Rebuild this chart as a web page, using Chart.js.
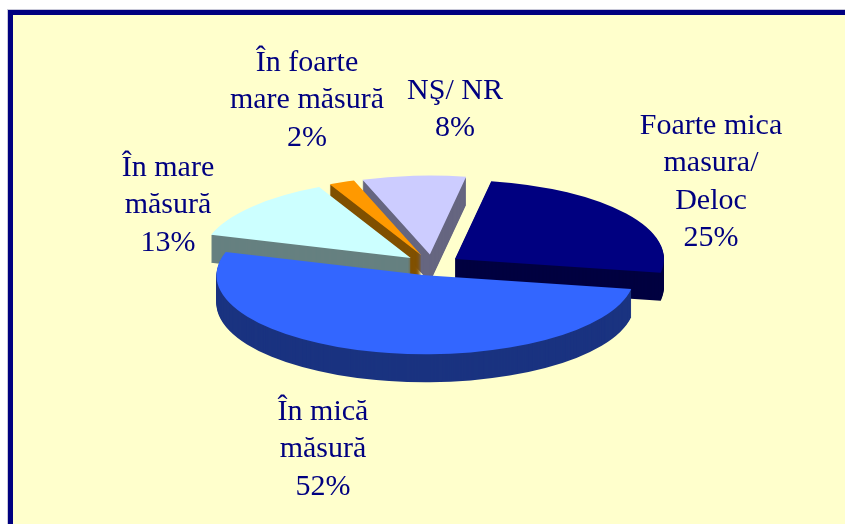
<!DOCTYPE html>
<html lang="ro">
<head>
<meta charset="utf-8">
<title>Pie</title>
<script src="https://cdn.jsdelivr.net/npm/chart.js@4"></script>
<style>
  html, body { margin: 0; padding: 0; background: #fff; overflow: hidden; }
  #frame { position: absolute; left: 7px; top: 9px; width: 838px; height: 515px; background: #c8c8d8; }
  #inner { position: absolute; left: 1px; top: 1px; right: 0; bottom: 0; box-sizing: border-box;
           border-left: 5px solid #000080; border-top: 5px solid #000080; background: #ffffcc; }
  canvas { position: absolute; left: 0; top: 0; }
</style>
</head>
<body>
<div id="frame"><div id="inner"></div></div>
<canvas id="chart" width="845" height="524"></canvas>
<script>
const categorii = ['Foarte mica masura/ Deloc', 'În mică măsură', 'În mare măsură', 'În foarte mare măsură', 'NŞ/ NR'];
const valori = [25, 52, 13, 2, 8];
const etichete = [
  ['Foarte mica', 'masura/', 'Deloc', '25%'],
  ['În mică', 'măsură', '52%'],
  ['În mare', 'măsură', '13%'],
  ['În foarte', 'mare măsură', '2%'],
  ['NŞ/ NR', '8%']
];
const culori = ['#000080', '#3366ff', '#ccffff', '#ff9900', '#ccccff'];
const culoriLaterale = ['#000040', '#1a3380', '#668080', '#805000', '#666680'];

// look of the fake 3D pie
const SQUASH = 0.378;
const DEPTH = 28;
const EXPLODE = 28;
const drawOrder = [4, 3, 2, 0, 1];
const labelAnchors = [[711, 126], [323, 412], [168, 168], [307, 63], [455, 91]];
const LINE_H = 37.5;

const pie3d = {
  id: 'pie3d',
  beforeDatasetsDraw(chart) {
    const ctx = chart.ctx;
    const arcs = chart.getDatasetMeta(0).data;
    drawOrder.forEach(i => {
      const el = arcs[i];
      const opts = el.options;
      const mid = (el.startAngle + el.endAngle) / 2;
      const paint = (dy, color) => {
        ctx.save();
        ctx.translate(el.x, el.y + dy);
        ctx.scale(1, SQUASH);
        ctx.translate(Math.cos(mid) * EXPLODE, Math.sin(mid) * EXPLODE);
        ctx.translate(-el.x, -el.y);
        const o = Object.create(opts);
        o.backgroundColor = color;
        el.options = o;
        el.draw(ctx);
        el.options = opts;
        ctx.restore();
      };
      for (let d = DEPTH; d > 0; d--) paint(d, culoriLaterale[i]);
      paint(0, culori[i]);
    });
    return false;
  },
  afterDraw(chart) {
    const ctx = chart.ctx;
    ctx.save();
    ctx.font = '30px "Liberation Serif"';
    ctx.fillStyle = '#000080';
    ctx.textAlign = 'center';
    ctx.textBaseline = 'middle';
    etichete.forEach((lines, i) => {
      lines.forEach((t, k) => ctx.fillText(t, labelAnchors[i][0], labelAnchors[i][1] + k * LINE_H));
    });
    ctx.restore();
  }
};

new Chart(document.getElementById('chart'), {
  type: 'pie',
  data: {
    labels: categorii,
    datasets: [{ data: valori, backgroundColor: culori, borderWidth: 0 }]
  },
  options: {
    responsive: false,
    animation: false,
    rotation: 10,
    radius: 209,
    layout: { padding: { left: 19, top: 6 } },
    events: [],
    plugins: { legend: { display: false }, tooltip: { enabled: false } }
  },
  plugins: [pie3d]
});
</script>
</body>
</html>
